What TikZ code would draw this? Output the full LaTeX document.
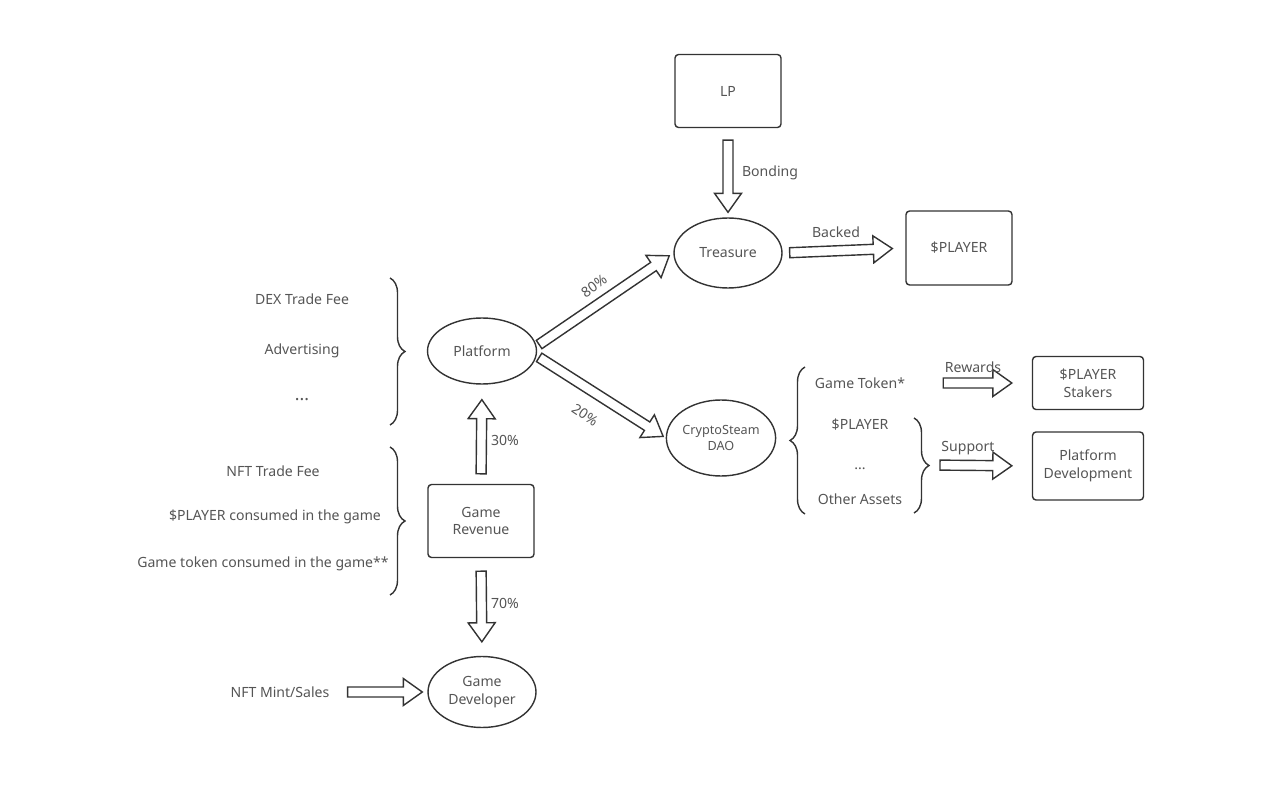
\documentclass[tikz,border=0pt]{standalone}
\usepackage{fontspec}
\setmainfont{Noto Sans}
\usetikzlibrary{shapes.geometric,calc,decorations.pathreplacing}
\definecolor{ln}{HTML}{333333}
\definecolor{tx}{HTML}{555555}
\newcommand\blkarrow[4]{%
  \path ($(#1)!#3!(#2)$) coordinate (bS) ($(#2)!#4!(#1)$) coordinate (bE);
  \path ($(bE)!0.38cm!(bS)$) coordinate (bN);
  \draw[blk] ($(bS)!0.1cm!90:(bE)$) -- ($(bN)!0.1cm!90:(bE)$) -- ($(bN)!0.27cm!90:(bE)$) -- (bE)
    -- ($(bN)!0.27cm!-90:(bE)$) -- ($(bN)!0.1cm!-90:(bE)$) -- ($(bS)!0.1cm!-90:(bE)$) -- cycle;
}
\begin{document}
\begin{tikzpicture}[x=0.02cm,y=-0.02cm,
  every node/.style={font=\fontsize{8}{10}\selectfont, text=tx, align=center},
  box/.style={draw=ln, line width=0.8pt, rounded corners=2pt, inner sep=0pt},
  ell/.style={draw=ln, line width=0.8pt, ellipse, inner sep=0pt},
  dots/.style={font=\fontsize{10}{10}\selectfont\bfseries},
  brc/.style={draw=ln, line width=0.8pt, decorate, decoration={brace, amplitude=0.3cm}},
  blk/.style={draw=ln, line width=0.8pt, fill=white, line join=miter}]
\useasboundingbox (0,0) rectangle (1280,800);
% main nodes
\node[box, minimum width=2.12cm, minimum height=1.46cm] (lp) at (728,91) {LP};
\node[ell, minimum width=2.16cm, minimum height=1.4cm] (tre) at (728,253) {Treasure};
\node[box, minimum width=2.12cm, minimum height=1.48cm] (pl) at (959,248) {\$PLAYER};
\node[ell, minimum width=2.18cm, minimum height=1.32cm] (plat) at (482,351) {Platform};
\node[box, minimum width=2.12cm, minimum height=1.46cm] (gr) at (481,521) {Game\\Revenue};
\node[ell, minimum width=2.16cm, minimum height=1.42cm] (gd) at (482,692) {Game\\Developer};
\node[ell, minimum width=2.0cm, minimum height=1.52cm, font=\fontsize{7.2}{9.5}\selectfont] (dao) at (721,438) {CryptoSteam\\DAO};
\node[box, minimum width=2.22cm, minimum height=1.06cm] (stk) at (1088,383) {\$PLAYER\\Stakers};
\node[box, minimum width=2.22cm, minimum height=1.36cm] (pd) at (1088,466) {Platform\\Development};
% side texts
\node (dex) at (302,299) {DEX Trade Fee};
\node (adv) at (302,351) {Advertising};
\node[dots] (dt1) at (302,400) {...};
\node (nftf) at (273,471) {NFT Trade Fee};
\node (plc) at (275,517) {\$PLAYER consumed in the game};
\node (gtc) at (263,564) {Game token consumed in the game**};
\node (nftm) at (280,692) {NFT Mint/Sales};
\node (gt) at (860,383) {Game Token*};
\node (dpl) at (860,425) {\$PLAYER};
\node[dots, font=\fontsize{8}{8}\selectfont\bfseries] (dt2) at (860,469) {...};
\node (oa) at (860,499) {Other Assets};
% braces
\draw[brc] (390,278) -- (390,425);
\draw[brc] (390,447) -- (390,595);
\draw[brc] (805,514) -- (805,367);
\draw[brc] (914,418) -- (914,513);
\coordinate (btip) at (930,465);
% arrows
\blkarrow{lp.south}{tre.north}{0.24cm}{0.1cm}
\blkarrow{tre.east}{pl.west}{0.14cm}{0.26cm}
\blkarrow{plat.5}{tre.west}{0.06cm}{0.1cm}
\blkarrow{plat.-5}{dao.west}{0.06cm}{0.06cm}
\blkarrow{gr.north}{plat.south}{0.2cm}{0.3cm}
\blkarrow{gr.south}{gd.north}{0.26cm}{0.28cm}
\blkarrow{nftm.east}{gd.west}{0.24cm}{0.1cm}
\blkarrow{gt.east}{stk.west}{0.64cm}{0.4cm}
\blkarrow{btip}{pd.west}{0.2cm}{0.4cm}
% labels
\node (lbond) at (770,173) {Bonding};
\node (lback) at (836,232) {Backed};
\node[rotate=35] (l80) at (594,286) {80\%};
\node[rotate=-34] (l20) at (585,415) {20\%};
\node (l30) at (505,440) {30\%};
\node (l70) at (505,603) {70\%};
\node (lrew) at (973,367) {Rewards};
\node (lsup) at (968,448) {Support};
\end{tikzpicture}
\end{document}
